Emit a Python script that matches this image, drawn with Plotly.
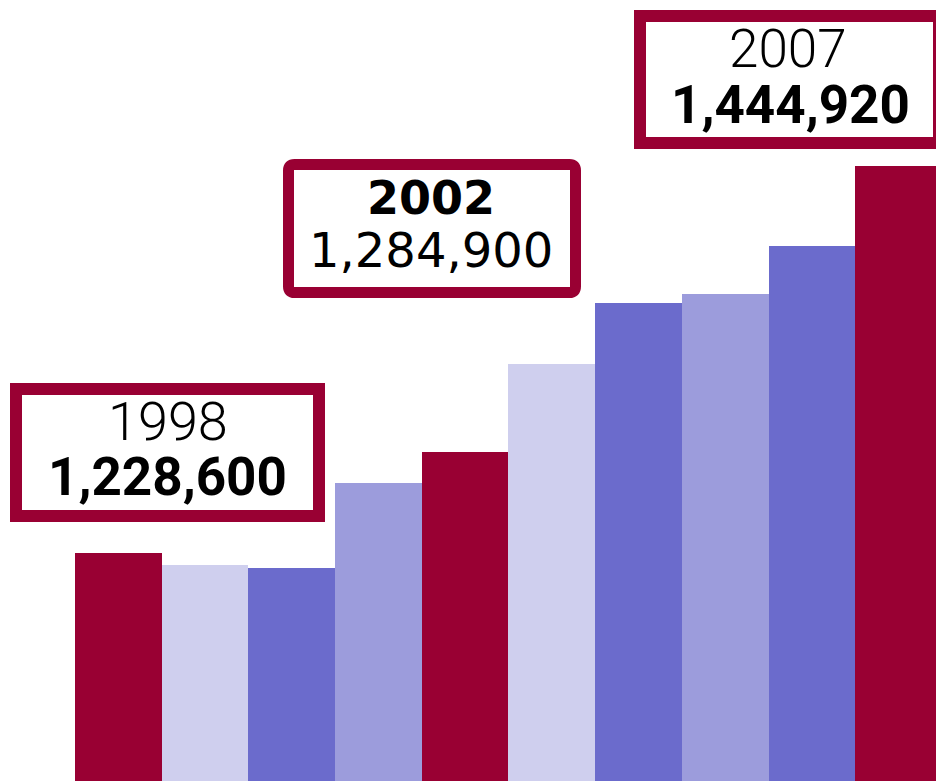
import plotly.graph_objects as go

# Annual totals, 1998-2007
years = [1998, 1999, 2000, 2001, 2002, 2003, 2004, 2005, 2006, 2007]
totals = [1228600, 1221900, 1220200, 1267700, 1284900,
          1334200, 1368300, 1373400, 1400200, 1444920]

RED = "#990033"
LIGHT = "#CFCFEE"
MID = "#9C9CDC"
DARK = "#6B6BCC"
bar_colors = [RED, LIGHT, DARK, MID, RED, LIGHT, DARK, MID, DARK, RED]

W, H = 936, 781


def px(x):
    return x / W


def py(y):
    return 1 - y / H


fig = go.Figure(go.Bar(
    x=years, y=totals, marker=dict(color=bar_colors, line=dict(width=0)),
    width=1.0, hoverinfo="x+y",
))


def box(x0, y0, x1, y1, lw, r=0):
    # stroke is centred on the path, so inset by half the line width
    h = lw / 2
    x0, y0, x1, y1 = x0 + h, y0 + h, x1 - h, y1 - h
    if r == 0:
        return dict(type="rect", xref="paper", yref="paper",
                    x0=px(x0), x1=px(x1), y0=py(y1), y1=py(y0),
                    line=dict(color=RED, width=lw), fillcolor="white",
                    layer="above")
    p = (f"M {px(x0 + r)},{py(y0)} L {px(x1 - r)},{py(y0)} "
         f"Q {px(x1)},{py(y0)} {px(x1)},{py(y0 + r)} "
         f"L {px(x1)},{py(y1 - r)} Q {px(x1)},{py(y1)} {px(x1 - r)},{py(y1)} "
         f"L {px(x0 + r)},{py(y1)} Q {px(x0)},{py(y1)} {px(x0)},{py(y1 - r)} "
         f"L {px(x0)},{py(y0 + r)} Q {px(x0)},{py(y0)} {px(x0 + r)},{py(y0)} Z")
    return dict(type="path", xref="paper", yref="paper", path=p,
                line=dict(color=RED, width=lw), fillcolor="white",
                layer="above")


shapes = [
    box(10, 383, 325, 522, 12),
    box(283, 159, 581, 298, 11, r=6),
    box(634, 10, 945, 149, 12),
]


def label(text, x, y, family, size, weight):
    return dict(text=text, xref="paper", yref="paper", x=px(x), y=py(y),
                xanchor="center", yanchor="middle", showarrow=False,
                font=dict(family=family, size=size, color="black",
                          weight=weight))


annotations = [
    label("1998", 168, 421, "Roboto", 54, 300),
    label("1,228,600", 167, 477, "Roboto", 53, 700),
    label("2002", 431, 198, "DejaVu Sans", 46, 700),
    label("1,284,900", 431, 250, "DejaVu Sans", 48, 400),
    label("2007", 788, 49, "Roboto", 53, 300),
    label("1,444,920", 790, 105, "Roboto", 53, 700),
]

fig.update_layout(
    width=W, height=H,
    margin=dict(l=0, r=0, t=0, b=0),
    paper_bgcolor="white", plot_bgcolor="white",
    bargap=0, showlegend=False,
    xaxis=dict(range=[1996.635, 2007.431], visible=False, fixedrange=True),
    yaxis=dict(range=[1101100, 1537660], visible=False, fixedrange=True),
    shapes=shapes, annotations=annotations,
)

fig.write_html("out.html")
